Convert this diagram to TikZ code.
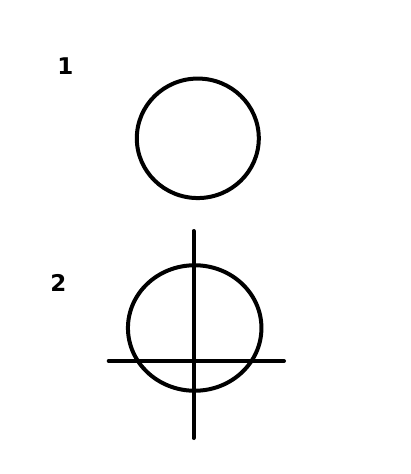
\documentclass[tikz,border=0pt]{standalone}
\usepackage{fontspec}
\newfontfamily\labelfont{DejaVu Sans}
\usetikzlibrary{shapes.geometric}
\begin{document}
\begin{tikzpicture}[x=1pt,y=-1pt,
  ring/.style={draw,ellipse,line width=4pt,inner sep=0pt,outer sep=0pt},
  axis/.style={line width=4pt,line cap=round},
  num/.style={font=\labelfont\bfseries\fontsize{23}{23}\selectfont,inner sep=0pt}]
\useasboundingbox (0,0) rectangle (411,474);
\node[num] (n1) at (65.5,66.5) {1};
\node[num] (n2) at (58.5,283) {2};
\node[ring,minimum width=122pt,minimum height=119.5pt] (c1) at (197.8,138.3) {};
\node[ring,minimum width=133.5pt,minimum height=125.5pt] (c2) at (194.7,328) {};
\coordinate (vtop) at (193.5,231);
\coordinate (vbot) at (193.5,438);
\coordinate (hl) at (108.7,361);
\coordinate (hr) at (284,361);
\draw[axis] (vtop) -- (vbot);
\draw[axis] (hl) -- (hr);
\end{tikzpicture}
\end{document}
